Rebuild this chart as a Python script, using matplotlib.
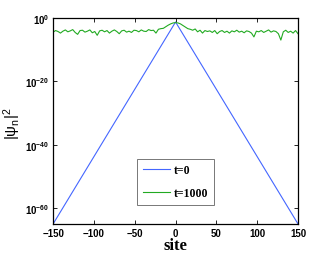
import numpy as np
import matplotlib
matplotlib.use("Agg")
from matplotlib import pyplot as plt

# t=0 profile: straight line on log scale, peak at centre
sites_t0 = [-150, 0, 150]
psi2_t0 = [1e-65, 10**-1.3, 1e-65]

# t=1000 profile, log10 |psi_n|^2 read every 3 sites
sites_t1000 = list(range(-150, 151, 3))
log_psi2_t1000 = [
    -4.5, -4.0, -4.3, -4.8, -4.2, -3.8, -4.4, -4.1, -3.7, -4.6,
    -5.2, -4.0, -3.9, -4.5, -4.2, -3.8, -4.7, -4.3, -5.5, -4.1,
    -3.9, -4.4, -4.0, -4.8, -4.2, -3.8, -4.3, -5.0, -4.1, -3.9,
    -4.5, -4.2, -4.6, -3.9, -4.0, -4.4, -3.8, -4.2, -4.3, -3.7,
    -4.0, -3.9, -4.8, -3.6, -3.4, -3.3, -2.8, -2.3, -1.9, -1.6,
    -1.5, -1.6, -1.9, -2.4, -2.9, -3.4, -3.6, -3.9, -3.5, -4.4,
    -3.9, -4.8, -4.0, -4.3, -4.1, -4.6, -4.0, -5.0, -4.3, -4.0,
    -4.6, -4.2, -4.8, -4.1, -4.4, -3.9, -4.5, -4.2, -4.7, -4.1,
    -4.3, -4.8, -6.0, -4.2, -4.4, -4.0, -4.6, -4.2, -3.8, -4.5,
    -4.1, -4.3, -5.0, -7.0, -4.4, -3.9, -4.6, -4.2, -4.8, -4.0,
    -5.0,
]

xticks = [-150, -100, -50, 0, 50, 100, 150]
yticks = [1e-60, 1e-40, 1e-20, 1e0]
ytick_labels = [r"$\mathbf{10^{-60}}$", r"$\mathbf{10^{-40}}$",
                r"$\mathbf{10^{-20}}$", r"$\mathbf{10^{0}}$"]

plt.rcParams["mathtext.fontset"] = "custom"
plt.rcParams["mathtext.bf"] = "Liberation Sans:bold"
plt.rcParams["mathtext.rm"] = "Liberation Sans"
plt.rcParams["mathtext.it"] = "Liberation Sans"
plt.rcParams["mathtext.default"] = "rm"

fig = plt.figure(figsize=(3.3, 2.55), dpi=100)
ax = fig.add_axes([0.161, 0.118, 0.742, 0.808])

ax.semilogy(sites_t0, psi2_t0, color="#4466ff", lw=0.8, label="t=0")
ax.semilogy(sites_t1000, 10 ** np.array(log_psi2_t1000), color="#22aa22",
            lw=0.8, label="t=1000")

ax.set_xlim(-150, 150)
ax.set_ylim(1e-65, 1)
ax.set_xticks(xticks)
ax.set_xticklabels([str(t).replace("-", "\u2212") for t in xticks],
                   fontfamily="Liberation Sans", fontweight="bold", fontsize=7)
ax.set_yticks(yticks)
ax.set_yticklabels(ytick_labels, fontsize=7)
ax.yaxis.set_minor_locator(matplotlib.ticker.NullLocator())
ax.tick_params(direction="in", length=3, width=0.6, top=True, right=True, pad=3)

for s in ax.spines.values():
    s.set_linewidth(0.9)

ax.set_xlabel("site", fontfamily="Liberation Serif", fontweight="bold", fontsize=12)
ax.xaxis.set_label_coords(0.5, -0.065)
ax.set_ylabel(r"$|\psi_n|^2$", fontsize=11)
ax.yaxis.set_label_coords(-0.125, 0.49)

leg = ax.legend(loc="lower left", bbox_to_anchor=(0.343, 0.092, 0.314, 0.214),
                mode="expand", fancybox=False, edgecolor="#555555",
                borderaxespad=0,
                prop={"family": "Liberation Serif", "weight": "bold", "size": 8.5},
                handlelength=2.3, handletextpad=0.3, borderpad=0.5,
                labelspacing=0.9)
leg.get_frame().set_linewidth(0.7)

fig.savefig("out.png", dpi=100)
